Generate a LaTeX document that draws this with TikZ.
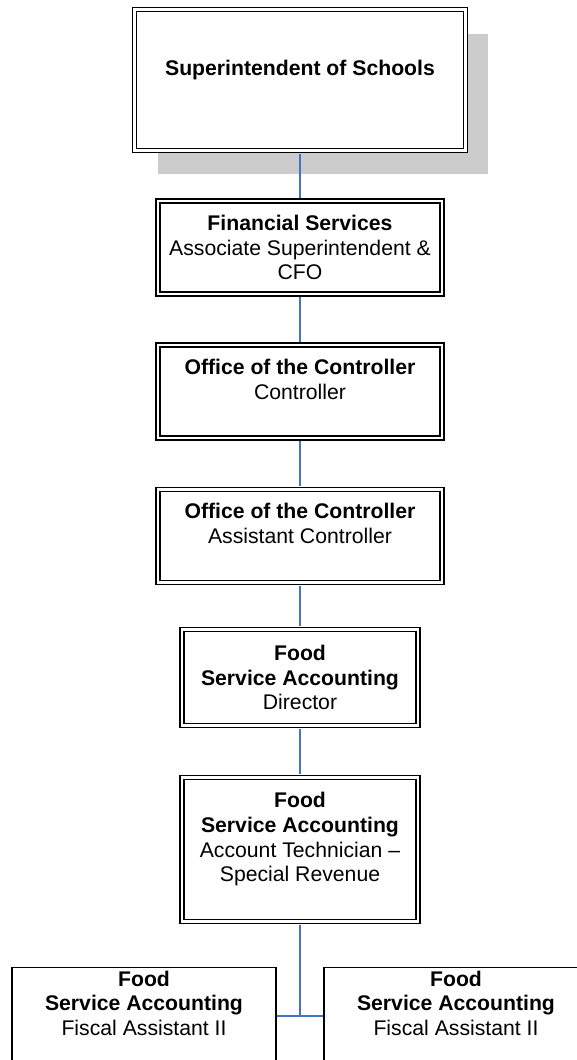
\documentclass[tikz,border=0pt]{standalone}
\usepackage{fontspec}
\setmainfont{Liberation Sans}
\usetikzlibrary{shadows}
\definecolor{linkblue}{HTML}{4472C4}

\begin{document}
\begin{tikzpicture}[x=0.5pt, y=-0.5pt,
    font=\fontsize{10.6}{12.35}\selectfont,
    dbox/.style={draw, fill=white, double, line width=0.75pt, double distance=1.2pt,
        align=center, inner sep=0pt},
    midbox/.style={dbox, minimum width=142pt, minimum height=46.5pt},
    foodbox/.style={dbox, minimum width=118pt},
    tbox/.style={draw, fill=white, line width=0.7pt, align=center, anchor=north,
        inner xsep=0pt, inner ysep=1.5pt, minimum width=132pt, text depth=60pt},
    link/.style={draw=linkblue, line width=0.8pt, shorten <=1.35pt, shorten >=1.35pt}]

    \path[use as bounding box] (0,0) rectangle (577,1060);
    \clip (0,0) rectangle (577,1060);

    \node[dbox, minimum width=165.4pt, minimum height=70.4pt,
        drop shadow={shadow xshift=11.5pt, shadow yshift=-12pt, fill=black!20, fill opacity=1}]
        (supt) at (300,80) {\textbf{Superintendent of Schools}\\ ~};

    \node[midbox] (cfo) at (300,247.5) {\textbf{Financial Services}\\Associate Superintendent \&\\CFO};
    \node[midbox] (ctrl) at (300,391.5) {\textbf{Office of the Controller}\\Controller\\ ~};
    \node[midbox] (actrl) at (300,536) {\textbf{Office of the Controller}\\Assistant Controller\\ ~};

    \node[foodbox, minimum height=48pt] (dir) at (300,677.5) {\textbf{Food}\\\textbf{Service Accounting}\\Director};
    \node[foodbox, minimum height=72pt] (tech) at (300,849.5)
        {\textbf{Food}\\\textbf{Service Accounting}\\Account Technician –\\Special Revenue\\ ~};

    \node[tbox] (fisc1) at (144,967) {\textbf{Food}\\\textbf{Service Accounting}\\Fiscal Assistant II};
    \node[tbox] (fisc2) at (456,967) {\textbf{Food}\\\textbf{Service Accounting}\\Fiscal Assistant II};

    \coordinate (split) at (300,1016);

    \draw[link] (supt) -- (cfo);
    \draw[link] (cfo) -- (ctrl);
    \draw[link] (ctrl) -- (actrl);
    \draw[link] (actrl) -- (dir);
    \draw[link] (dir) -- (tech);
    \draw[link, shorten >=0pt] (tech) -- (split);
    \draw[link, shorten <=0pt, shorten >=0pt] (fisc1.east |- split) -- (fisc2.west |- split);
\end{tikzpicture}
\end{document}
